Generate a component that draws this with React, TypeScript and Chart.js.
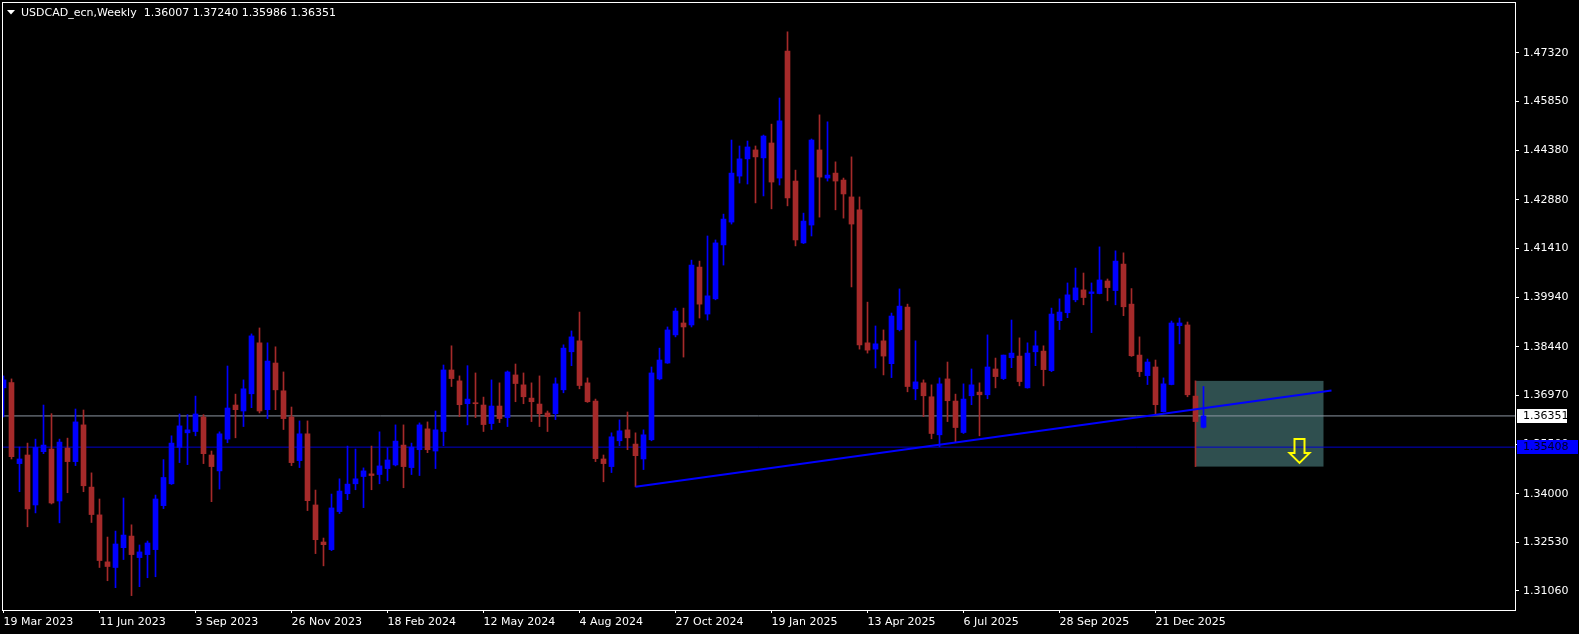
import React, { useEffect, useRef } from 'react';
import { Chart, registerables } from 'chart.js';

Chart.register(...registerables);

const symbolName = 'USDCAD_ecn';
const periodName = 'Weekly';

// Weekly candles, 19 Mar 2023 .. 1 Feb 2026 (index 0 .. 150)
const opens = [
  1.3720, 1.3736, 1.3491, 1.3517, 1.3366, 1.3527, 1.3535, 1.3378, 1.3538, 1.3497,
  1.3608, 1.3420, 1.3336, 1.3194, 1.3177, 1.3237, 1.3272, 1.3207, 1.3216, 1.3231,
  1.3364, 1.3430, 1.3540, 1.3584, 1.3588, 1.3632, 1.3517, 1.3469, 1.3565, 1.3668,
  1.3650, 1.3702, 1.3856, 1.3654, 1.3795, 1.3711, 1.3632, 1.3500, 1.3581, 1.3366,
  1.3254, 1.3231, 1.3346, 1.3400, 1.3430, 1.3452, 1.3460, 1.3458, 1.3476, 1.3487,
  1.3547, 1.3479, 1.3533, 1.3596, 1.3529, 1.3588, 1.3774, 1.3741, 1.3672, 1.3674,
  1.3668, 1.3612, 1.3665, 1.3630, 1.3759, 1.3729, 1.3689, 1.3671, 1.3644, 1.3642,
  1.3714, 1.3829, 1.3862, 1.3735, 1.3680, 1.3505, 1.3482, 1.3560, 1.3593, 1.3550,
  1.3505, 1.3563, 1.3747, 1.3795, 1.3880, 1.3916, 1.3910, 1.4085, 1.3943, 1.3989,
  1.4152, 1.4221, 1.4360, 1.4412, 1.4439, 1.4415, 1.4460, 1.4354, 1.4738, 1.4345,
  1.4158, 1.4212, 1.4439, 1.4354, 1.4369, 1.4348, 1.4297, 1.4258, 1.3856, 1.3837,
  1.3862, 1.3793, 1.3896, 1.3964, 1.3717, 1.3735, 1.3693, 1.3578, 1.3747, 1.3680,
  1.3585, 1.3696, 1.3707, 1.3699, 1.3777, 1.3748, 1.3811, 1.3816, 1.3720, 1.3829,
  1.3831, 1.3772, 1.3923, 1.3947, 1.3986, 1.4016, 1.4005, 1.4005, 1.4043, 1.4014,
  1.4094, 1.3973, 1.3819, 1.3757, 1.3783, 1.3648, 1.3730, 1.3908, 1.3910, 1.3695,
  1.36007,
];
const highs = [
  1.3756, 1.3747, 1.3541, 1.3553, 1.3565, 1.3668, 1.3642, 1.3565, 1.3568, 1.3656,
  1.3653, 1.3463, 1.3384, 1.3269, 1.3287, 1.3387, 1.3306, 1.3245, 1.3257, 1.3396,
  1.3503, 1.3575, 1.3641, 1.3639, 1.3695, 1.3639, 1.3529, 1.3587, 1.3786, 1.3701,
  1.3744, 1.3883, 1.3901, 1.3856, 1.3844, 1.3768, 1.3662, 1.3620, 1.3620, 1.3411,
  1.3266, 1.3399, 1.3445, 1.3544, 1.3535, 1.3478, 1.3544, 1.3587, 1.3539, 1.3608,
  1.3608, 1.3553, 1.3614, 1.3617, 1.3650, 1.3789, 1.3847, 1.3756, 1.3787, 1.3765,
  1.3692, 1.3744, 1.3735, 1.3771, 1.3792, 1.3765, 1.3735, 1.3756, 1.3650, 1.3750,
  1.3850, 1.3892, 1.3949, 1.3750, 1.3686, 1.3517, 1.3584, 1.3623, 1.3647, 1.3584,
  1.3593, 1.3783, 1.3840, 1.3904, 1.3961, 1.3961, 1.4106, 1.4103, 1.4179, 1.4167,
  1.4245, 1.4469, 1.4451, 1.4466, 1.4451, 1.4484, 1.4517, 1.4596, 1.4796, 1.4378,
  1.4248, 1.4472, 1.4545, 1.4524, 1.4403, 1.4354, 1.4418, 1.4297, 1.3979, 1.3907,
  1.3895, 1.3946, 1.4019, 1.3973, 1.3862, 1.3744, 1.3729, 1.3750, 1.3798, 1.3701,
  1.3732, 1.3777, 1.3735, 1.3880, 1.3810, 1.3819, 1.3925, 1.3871, 1.3856, 1.3892,
  1.3847, 1.3961, 1.3989, 1.4037, 1.4082, 1.4067, 1.4037, 1.4146, 1.4049, 1.4134,
  1.4128, 1.4020, 1.3874, 1.3807, 1.3804, 1.3750, 1.3922, 1.3931, 1.3919, 1.3741,
  1.37240,
];
const lows = [
  1.3632, 1.3505, 1.3406, 1.3300, 1.3342, 1.3521, 1.3369, 1.3312, 1.3403, 1.3485,
  1.3406, 1.3313, 1.3177, 1.3137, 1.3116, 1.3201, 1.3092, 1.3119, 1.3146, 1.3149,
  1.3355, 1.3428, 1.3494, 1.3488, 1.3575, 1.3491, 1.3376, 1.3414, 1.3554, 1.3569,
  1.3603, 1.3660, 1.3644, 1.3627, 1.3654, 1.3594, 1.3485, 1.3479, 1.3349, 1.3219,
  1.3182, 1.3228, 1.3340, 1.3382, 1.3412, 1.3358, 1.3412, 1.3430, 1.3439, 1.3484,
  1.3418, 1.3458, 1.3455, 1.3524, 1.3476, 1.3545, 1.3724, 1.3633, 1.3608, 1.3630,
  1.3588, 1.3594, 1.3615, 1.3603, 1.3678, 1.3672, 1.3618, 1.3603, 1.3588, 1.3624,
  1.3705, 1.3787, 1.3717, 1.3676, 1.3497, 1.3436, 1.3464, 1.3545, 1.3533, 1.3421,
  1.3473, 1.3560, 1.3744, 1.3794, 1.3874, 1.3813, 1.3904, 1.3931, 1.3925, 1.3986,
  1.4091, 1.4215, 1.4339, 1.4336, 1.4279, 1.4300, 1.4261, 1.4333, 1.4270, 1.4149,
  1.4156, 1.4179, 1.4236, 1.4345, 1.4258, 1.4233, 1.4025, 1.3837, 1.3825, 1.3780,
  1.3759, 1.3751, 1.3892, 1.3708, 1.3684, 1.3633, 1.3566, 1.3542, 1.3618, 1.3557,
  1.3582, 1.3669, 1.3575, 1.3687, 1.3720, 1.3745, 1.3781, 1.3726, 1.3719, 1.3787,
  1.3726, 1.3769, 1.3896, 1.3932, 1.3980, 1.3971, 1.3887, 1.4004, 1.3983, 1.3971,
  1.3938, 1.3815, 1.3754, 1.3730, 1.3642, 1.3647, 1.3729, 1.3853, 1.3693, 1.3482,
  1.35986,
];
const closes = [
  1.3744, 1.3512, 1.3505, 1.3354, 1.3540, 1.3547, 1.3372, 1.3556, 1.3497, 1.3617,
  1.3424, 1.3337, 1.3198, 1.3180, 1.3248, 1.3275, 1.3216, 1.3224, 1.3251, 1.3384,
  1.3449, 1.3553, 1.3605, 1.3593, 1.3641, 1.3521, 1.3482, 1.3581, 1.3659, 1.3654,
  1.3717, 1.3877, 1.3650, 1.3801, 1.3714, 1.3627, 1.3494, 1.3581, 1.3379, 1.3261,
  1.3246, 1.3357, 1.3408, 1.3429, 1.3445, 1.3469, 1.3455, 1.3484, 1.3502, 1.3559,
  1.3482, 1.3541, 1.3608, 1.3533, 1.3593, 1.3774, 1.3748, 1.3669, 1.3686, 1.3672,
  1.3609, 1.3665, 1.3627, 1.3768, 1.3733, 1.3693, 1.3678, 1.3642, 1.3633, 1.3732,
  1.3840, 1.3874, 1.3727, 1.3678, 1.3506, 1.3491, 1.3572, 1.3590, 1.3569, 1.3515,
  1.3578, 1.3765, 1.3804, 1.3895, 1.3952, 1.3904, 1.4091, 1.3973, 1.3998, 1.4158,
  1.4230, 1.4369, 1.4412, 1.4448, 1.4418, 1.4481, 1.4342, 1.4527, 1.4294, 1.4167,
  1.4224, 1.4469, 1.4357, 1.4363, 1.4345, 1.4306, 1.4215, 1.3850, 1.3834, 1.3853,
  1.3816, 1.3937, 1.3967, 1.3724, 1.3738, 1.3696, 1.3582, 1.3732, 1.3681, 1.3600,
  1.3686, 1.3729, 1.3699, 1.3783, 1.3754, 1.3819, 1.3825, 1.3739, 1.3825, 1.3847,
  1.3775, 1.3943, 1.3949, 1.4001, 1.4022, 1.3993, 1.4010, 1.4046, 1.4023, 1.4103,
  1.3965, 1.3817, 1.3769, 1.3798, 1.3669, 1.3732, 1.3916, 1.3916, 1.3699, 1.3618,
  1.36351,
];

const dateTickIndex = [0, 12, 24, 36, 48, 60, 72, 84, 96, 108, 120, 132, 144];
const dateTickLabels = [
  '19 Mar 2023', '11 Jun 2023', '3 Sep 2023', '26 Nov 2023', '18 Feb 2024', '12 May 2024',
  '4 Aug 2024', '27 Oct 2024', '19 Jan 2025', '13 Apr 2025', '6 Jul 2025', '28 Sep 2025', '21 Dec 2025',
];
const priceTicks = [1.4732, 1.4585, 1.4438, 1.4288, 1.4141, 1.3994, 1.3844, 1.3697, 1.3550, 1.3400, 1.3253, 1.3106];

const levelPrice = 1.35408;
const trendIdx = [79, 166];
const trendPrice = [1.3421, 1.3712];
const boxIdx = [149, 165];
const boxPrice = [1.3741, 1.3482];
const arrowIdx = 162;
const arrowPrice = 1.3493;

const X_MIN = -0.1875;
const X_MAX = 188.9375;
const Y_MAX = 1.488614;
const Y_MIN = 1.304854;

const BULL = '#0000FF';
const BEAR = '#A52A2A';
const BID_COLOR = 'rgb(140,150,162)';
const LEVEL_COLOR = '#0000CD';
const FONT = 'DejaVu Sans';

const overlayPlugin = {
  id: 'mt4Overlay',
  beforeDraw(chart: any) {
    const ctx = chart.ctx;
    ctx.save();
    ctx.fillStyle = '#000';
    ctx.fillRect(0, 0, chart.width, chart.height);
    ctx.restore();
  },
  beforeDatasetsDraw(chart: any) {
    const { ctx, chartArea, scales } = chart;
    const x = scales.x, y = scales.y;
    ctx.save();
    ctx.beginPath();
    ctx.rect(chartArea.left, chartArea.top, chartArea.right - chartArea.left, chartArea.bottom - chartArea.top);
    ctx.clip();
    const x0 = x.getPixelForValue(boxIdx[0]);
    const x1 = x.getPixelForValue(boxIdx[1]);
    const y0 = y.getPixelForValue(boxPrice[0]);
    const y1 = y.getPixelForValue(boxPrice[1]);
    ctx.fillStyle = '#2F4F4F';
    ctx.fillRect(x0, y0, x1 - x0, y1 - y0);
    ctx.restore();
  },
  afterDatasetsDraw(chart: any) {
    const { ctx, scales } = chart;
    const cx = scales.x.getPixelForValue(arrowIdx);
    const tip = scales.y.getPixelForValue(arrowPrice);
    const top = tip - 24;
    const neck = tip - 10;
    ctx.save();
    ctx.strokeStyle = '#FFFF00';
    ctx.lineWidth = 2;
    ctx.lineJoin = 'miter';
    ctx.beginPath();
    ctx.moveTo(cx - 5, top);
    ctx.lineTo(cx + 5, top);
    ctx.lineTo(cx + 5, neck);
    ctx.lineTo(cx + 10, neck);
    ctx.lineTo(cx, tip);
    ctx.lineTo(cx - 10, neck);
    ctx.lineTo(cx - 5, neck);
    ctx.closePath();
    ctx.stroke();
    ctx.restore();
  },
  afterDraw(chart: any) {
    const { ctx, chartArea, scales } = chart;
    const y = scales.y;
    ctx.save();
    // frame
    ctx.strokeStyle = '#FFFFFF';
    ctx.lineWidth = 1;
    ctx.strokeRect(chartArea.left + 0.5, chartArea.top + 0.5, chartArea.right - chartArea.left, chartArea.bottom - chartArea.top);
    // title
    ctx.fillStyle = '#FFFFFF';
    ctx.beginPath();
    ctx.moveTo(7, 10);
    ctx.lineTo(15, 10);
    ctx.lineTo(11, 14.5);
    ctx.closePath();
    ctx.fill();
    const n = closes.length - 1;
    const title = `${symbolName},${periodName}  ${opens[n].toFixed(5)} ${highs[n].toFixed(5)} ${lows[n].toFixed(5)} ${closes[n].toFixed(5)}`;
    ctx.font = `11px "${FONT}"`;
    ctx.textBaseline = 'alphabetic';
    ctx.textAlign = 'left';
    ctx.fillText(title, 21, 16);
    // price labels
    const bid = closes[n];
    const by = y.getPixelForValue(bid);
    ctx.fillStyle = '#FFFFFF';
    ctx.fillRect(chartArea.right + 2, Math.round(by) - 7, 50, 14);
    ctx.fillStyle = '#000000';
    ctx.textBaseline = 'middle';
    ctx.fillText(bid.toFixed(5), chartArea.right + 8, Math.round(by));
    const ly = y.getPixelForValue(levelPrice);
    ctx.fillStyle = '#0000FF';
    ctx.fillRect(chartArea.right + 2, Math.round(ly) - 7, 61, 14);
    ctx.fillStyle = '#000020';
    ctx.fillText(levelPrice.toFixed(5), chartArea.right + 8, Math.round(ly));
    ctx.restore();
  },
};

export default function App() {
  const canvasRef = useRef<HTMLCanvasElement | null>(null);

  useEffect(() => {
    document.body.style.margin = '0';
    document.body.style.background = '#000';
    const idx = opens.map((_, i) => i);
    const colors = idx.map((i) => (closes[i] >= opens[i] ? BULL : BEAR));
    const bid = closes[closes.length - 1];
    const chart = new Chart(canvasRef.current as HTMLCanvasElement, {
      type: 'bar',
      data: {
        datasets: [
          {
            type: 'line',
            label: 'bid',
            data: [{ x: X_MIN, y: bid }, { x: X_MAX, y: bid }],
            borderColor: BID_COLOR,
            borderWidth: 1,
            pointRadius: 0,
            order: 6,
          } as any,
          {
            type: 'line',
            label: 'level',
            data: [{ x: X_MIN, y: levelPrice }, { x: X_MAX, y: levelPrice }],
            borderColor: LEVEL_COLOR,
            borderWidth: 1,
            pointRadius: 0,
            order: 5,
          } as any,
          {
            type: 'bar',
            label: 'wick',
            data: idx.map((i) => ({ x: i, y: [lows[i], highs[i]] })),
            backgroundColor: colors,
            borderWidth: 0,
            barThickness: 1,
            grouped: false,
            order: 4,
          } as any,
          {
            type: 'bar',
            label: 'body',
            data: idx.map((i) => ({ x: i, y: [opens[i], closes[i]] })),
            backgroundColor: colors,
            borderWidth: 0,
            barThickness: 5,
            minBarLength: 1,
            grouped: false,
            order: 3,
          } as any,
          {
            type: 'line',
            label: 'trend',
            data: trendIdx.map((v, k) => ({ x: v, y: trendPrice[k] })),
            borderColor: '#0000FF',
            borderWidth: 2,
            pointRadius: 0,
            order: 1,
          } as any,
        ],
      },
      options: {
        responsive: false,
        maintainAspectRatio: false,
        animation: false,
        layout: { padding: { left: 2, top: 2, right: 0, bottom: 0 } },
        plugins: { legend: { display: false }, tooltip: { enabled: false }, title: { display: false } },
        scales: {
          x: {
            type: 'linear',
            min: X_MIN,
            max: X_MAX,
            offset: false,
            afterBuildTicks: (s: any) => {
              s.ticks = dateTickIndex.map((v) => ({ value: v }));
            },
            afterFit: (s: any) => {
              s.height = 24;
              s.paddingLeft = 0;
              s.paddingRight = 0;
            },
            ticks: {
              color: '#FFFFFF',
              font: { family: FONT, size: 11 },
              align: 'start',
              autoSkip: false,
              maxRotation: 0,
              minRotation: 0,
              padding: 3,
              callback: (_v: any, i: number) => dateTickLabels[i],
            },
            grid: { offset: false, drawOnChartArea: false, drawTicks: true, tickLength: 3, color: '#FFFFFF' },
            border: { display: false },
          },
          y: {
            type: 'linear',
            position: 'right',
            min: Y_MIN,
            max: Y_MAX,
            afterBuildTicks: (s: any) => {
              s.ticks = priceTicks.map((v) => ({ value: v }));
            },
            afterFit: (s: any) => {
              s.width = 64;
              s.paddingTop = 0;
              s.paddingBottom = 0;
            },
            ticks: {
              color: '#FFFFFF',
              font: { family: FONT, size: 11 },
              autoSkip: false,
              padding: 4,
              callback: (v: any) => Number(v).toFixed(5),
            },
            grid: { drawOnChartArea: false, drawTicks: true, tickLength: 4, color: '#FFFFFF' },
            border: { display: false },
          },
        },
      } as any,
      plugins: [overlayPlugin],
    });
    return () => chart.destroy();
  }, []);

  return (
    <div style={{ width: 1579, height: 634, background: '#000' }}>
      <canvas ref={canvasRef} width={1579} height={634} style={{ display: 'block' }} />
    </div>
  );
}
